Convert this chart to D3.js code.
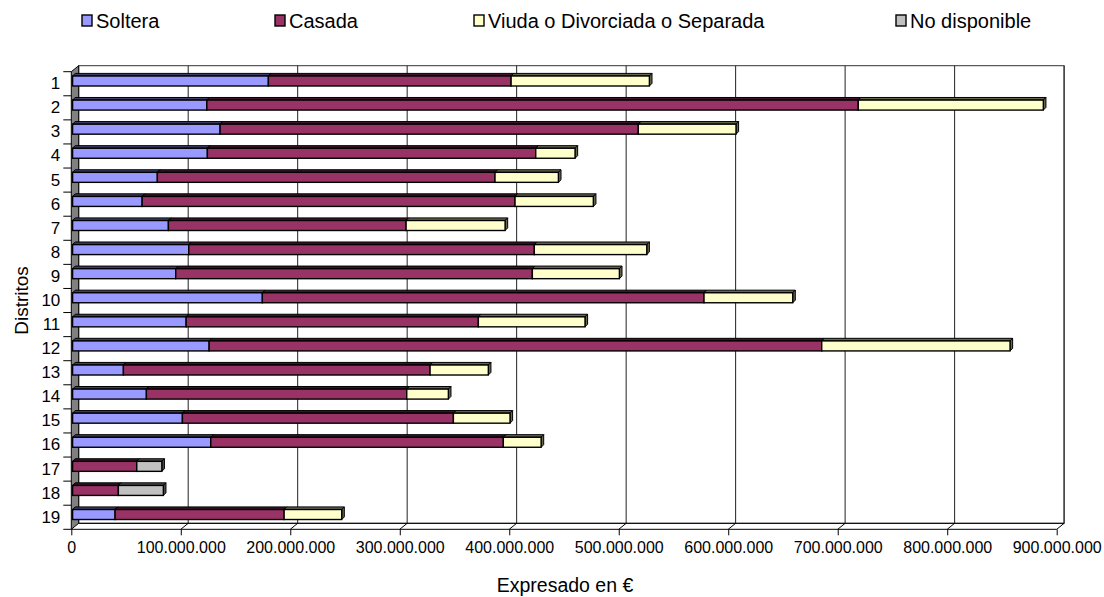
<!DOCTYPE html>
<html>
  <head>
    <meta charset="UTF-8">
    <style>
      body {
        margin: 0;
        background: white;
        font-family: "Liberation Sans", Arial, Helvetica, sans-serif;
      }
      text {
        fill: black;
      }
    </style>
    <script src="https://d3js.org/d3.v7.min.js"></script>
  </head>
  <body>
    <svg id="chart"></svg>

    <script type="text/javascript">
      // districts on the y axis
      let districts = ['1', '2', '3', '4', '5', '6', '7', '8', '9', '10',
                       '11', '12', '13', '14', '15', '16', '17', '18', '19']

      // amounts in euros
      let soltera = [178.8e6, 122.6e6, 134.7e6, 123.1e6, 77.4e6, 63.5e6, 87.5e6, 106.1e6, 94.2e6, 173.3e6,
                     103.7e6, 124.7e6, 46.4e6, 67.4e6, 100.3e6, 126.2e6, 0, 0, 38.8e6]
      let casada = [221.7e6, 595.0e6, 382.0e6, 299.9e6, 308.4e6, 340.6e6, 217.1e6, 315.6e6, 325.7e6, 403.4e6,
                    266.9e6, 559.5e6, 280.1e6, 237.8e6, 247.5e6, 267.2e6, 58.6e6, 41.8e6, 154.4e6]
      let viuda = [126.3e6, 169.0e6, 89.2e6, 35.9e6, 57.9e6, 71.5e6, 90.4e6, 102.7e6, 79.5e6, 81.0e6,
                   97.4e6, 172.0e6, 53.2e6, 38.0e6, 51.7e6, 34.5e6, 0, 0, 52.6e6]
      let noDisponible = [0, 0, 0, 0, 0, 0, 0, 0, 0, 0,
                          0, 0, 0, 0, 0, 0, 22.9e6, 41.1e6, 0]

      let seriesNames = ['Soltera', 'Casada', 'Viuda o Divorciada o Separada', 'No disponible']
      let seriesKeys = ['soltera', 'casada', 'viuda', 'noDisponible']
      let seriesColors = ['#9999FF', '#993366', '#FFFFCC', '#C0C0C0']
      let seriesDark = ['#3d3d66', '#3d1429', '#66664f', '#4d4d4d']

      let xTicks = [0, 100e6, 200e6, 300e6, 400e6, 500e6, 600e6, 700e6, 800e6, 900e6]

      function getConfig() {
        let width = 1104
        let height = 597
        let depth = { dx: 7.4, dy: -6 }     // 3d offset of the back wall
        let barDepth = 2.6                  // 3d offset of each bar
        let barShift = 1.3                  // bars sit a bit behind the front plane
        let svg = d3.select('#chart')
          .attr('width', width)
          .attr('height', height)
        return { width, height, depth, barDepth, barShift, svg }
      }

      function getScales() {
        let x = d3.scaleLinear()
          .domain([0, 900e6])
          .range([71.3, 1056.7])
        let y = d3.scaleBand()
          .domain(districts)
          .range([71.7, 529.3])
        return { x, y }
      }

      function formatEuro(v) {
        return d3.format(',')(v).replace(/,/g, '.')
      }

      function drawWalls(scales, config) {
        let { x, y } = scales
        let d = config.depth
        let g = config.svg.append('g').attr('class', 'walls')
        let x0 = x.range()[0], x1 = x.range()[1]
        let yTop = y.range()[0], yBot = y.range()[1]

        // back wall
        g.append('rect')
          .attr('x', x0 + d.dx)
          .attr('y', yTop + d.dy)
          .attr('width', x1 - x0)
          .attr('height', yBot - yTop)
          .attr('fill', 'white')
          .attr('stroke', '#333')
          .attr('stroke-width', 1)

        // grid on the back wall and the floor
        xTicks.slice(1).forEach(t => {
          g.append('line')
            .attr('x1', x(t) + d.dx).attr('x2', x(t) + d.dx)
            .attr('y1', yTop + d.dy).attr('y2', yBot + d.dy)
            .attr('stroke', '#222')
          g.append('line')
            .attr('x1', x(t) + d.dx).attr('x2', x(t))
            .attr('y1', yBot + d.dy).attr('y2', yBot)
            .attr('stroke', '#000')
        })

        // floor edges
        g.append('line')
          .attr('x1', x0 + d.dx).attr('x2', x1 + d.dx)
          .attr('y1', yBot + d.dy).attr('y2', yBot + d.dy)
          .attr('stroke', '#000')
        g.append('line')
          .attr('x1', x0).attr('x2', x1)
          .attr('y1', yBot).attr('y2', yBot)
          .attr('stroke', '#000')

        // side wall
        g.append('polygon')
          .attr('points', [[x0, yTop], [x0 + d.dx, yTop + d.dy], [x0 + d.dx, yBot + d.dy], [x0, yBot]].join(' '))
          .attr('fill', '#808080')
          .attr('stroke', '#000')
          .attr('stroke-width', 1)
      }

      function drawBars(scales, config) {
        let { x, y } = scales
        let bd = config.barDepth
        let rows = districts.map((name, i) => ({
          name,
          soltera: soltera[i],
          casada: casada[i],
          viuda: viuda[i],
          noDisponible: noDisponible[i],
        }))
        let stacked = d3.stack().keys(seriesKeys)(rows)
        let barTop = 4.3
        let barHeight = 10

        let g = config.svg.append('g').attr('class', 'bars')

        rows.forEach((row, i) => {
          let rowG = g.append('g')
          stacked.forEach((layer, s) => {
            let seg = layer[i]
            if (seg[1] - seg[0] <= 0) return
            let xa = x(seg[0]) + config.barShift
            let xb = x(seg[1]) + config.barShift
            let ya = y(row.name) + barTop
            let yb = ya + barHeight

            // top face
            rowG.append('polygon')
              .attr('points', [[xa, ya], [xa + bd, ya - bd], [xb + bd, ya - bd], [xb, ya]].join(' '))
              .attr('fill', seriesDark[s])
              .attr('stroke', '#000')
              .attr('stroke-width', 1)
            // side face
            rowG.append('polygon')
              .attr('points', [[xb, ya], [xb + bd, ya - bd], [xb + bd, yb - bd], [xb, yb]].join(' '))
              .attr('fill', seriesDark[s])
              .attr('stroke', '#000')
              .attr('stroke-width', 1)
            // front face
            rowG.append('rect')
              .attr('x', xa)
              .attr('y', ya)
              .attr('width', xb - xa)
              .attr('height', barHeight)
              .attr('fill', seriesColors[s])
              .attr('stroke', '#000')
              .attr('stroke-width', 1.4)
          })
        })
      }

      function drawAxes(scales, config) {
        let { x, y } = scales

        let axisX = d3.axisBottom(x)
          .tickValues(xTicks)
          .tickSize(6)
          .tickPadding(6)
          .tickFormat(formatEuro)
        let gx = config.svg.append('g')
          .attr('transform', `translate(0, ${y.range()[1]})`)
          .call(axisX)
        gx.select('.domain').remove()
        gx.selectAll('line').attr('stroke', '#000')
        gx.selectAll('text')
          .attr('font-family', '"Liberation Sans", Arial, sans-serif')
          .attr('font-size', 16)
          .attr('fill', '#000')

        let axisY = d3.axisLeft(y)
          .tickSize(0)
          .tickPadding(11)
        let gy = config.svg.append('g')
          .attr('transform', `translate(${x.range()[0]}, 0)`)
          .call(axisY)
        gy.select('.domain').remove()
        gy.selectAll('text')
          .attr('font-family', '"Liberation Sans", Arial, sans-serif')
          .attr('font-size', 17)
          .attr('fill', '#000')

        // tick marks between the districts
        let bounds = districts.map(dd => y(dd)).concat([y.range()[1]])
        config.svg.append('g')
          .selectAll('line')
          .data(bounds)
          .join('line')
          .attr('x1', x.range()[0] - 8)
          .attr('x2', x.range()[0])
          .attr('y1', dd => dd)
          .attr('y2', dd => dd)
          .attr('stroke', '#000')

        config.svg.append('text')
          .attr('transform', `translate(28, ${(y.range()[0] + y.range()[1]) / 2}) rotate(-90)`)
          .attr('text-anchor', 'middle')
          .attr('font-size', 19)
          .text('Distritos')

        config.svg.append('text')
          .attr('x', 565)
          .attr('y', 592)
          .attr('text-anchor', 'middle')
          .attr('font-size', 19.5)
          .text('Expresado en €')
      }

      function drawLegend(config) {
        let positions = [82, 275, 474, 896]
        let g = config.svg.append('g').attr('class', 'legend')
        seriesNames.forEach((name, i) => {
          g.append('rect')
            .attr('x', positions[i])
            .attr('y', 15)
            .attr('width', 10)
            .attr('height', 11)
            .attr('fill', seriesColors[i])
            .attr('stroke', '#000')
            .attr('stroke-width', 1.4)
          g.append('text')
            .attr('x', positions[i] + 14)
            .attr('y', 27.5)
            .attr('font-size', 20)
            .text(name)
        })
      }

      let config = getConfig()
      let scales = getScales()
      drawWalls(scales, config)
      drawBars(scales, config)
      drawAxes(scales, config)
      drawLegend(config)
    </script>
  </body>
</html>
